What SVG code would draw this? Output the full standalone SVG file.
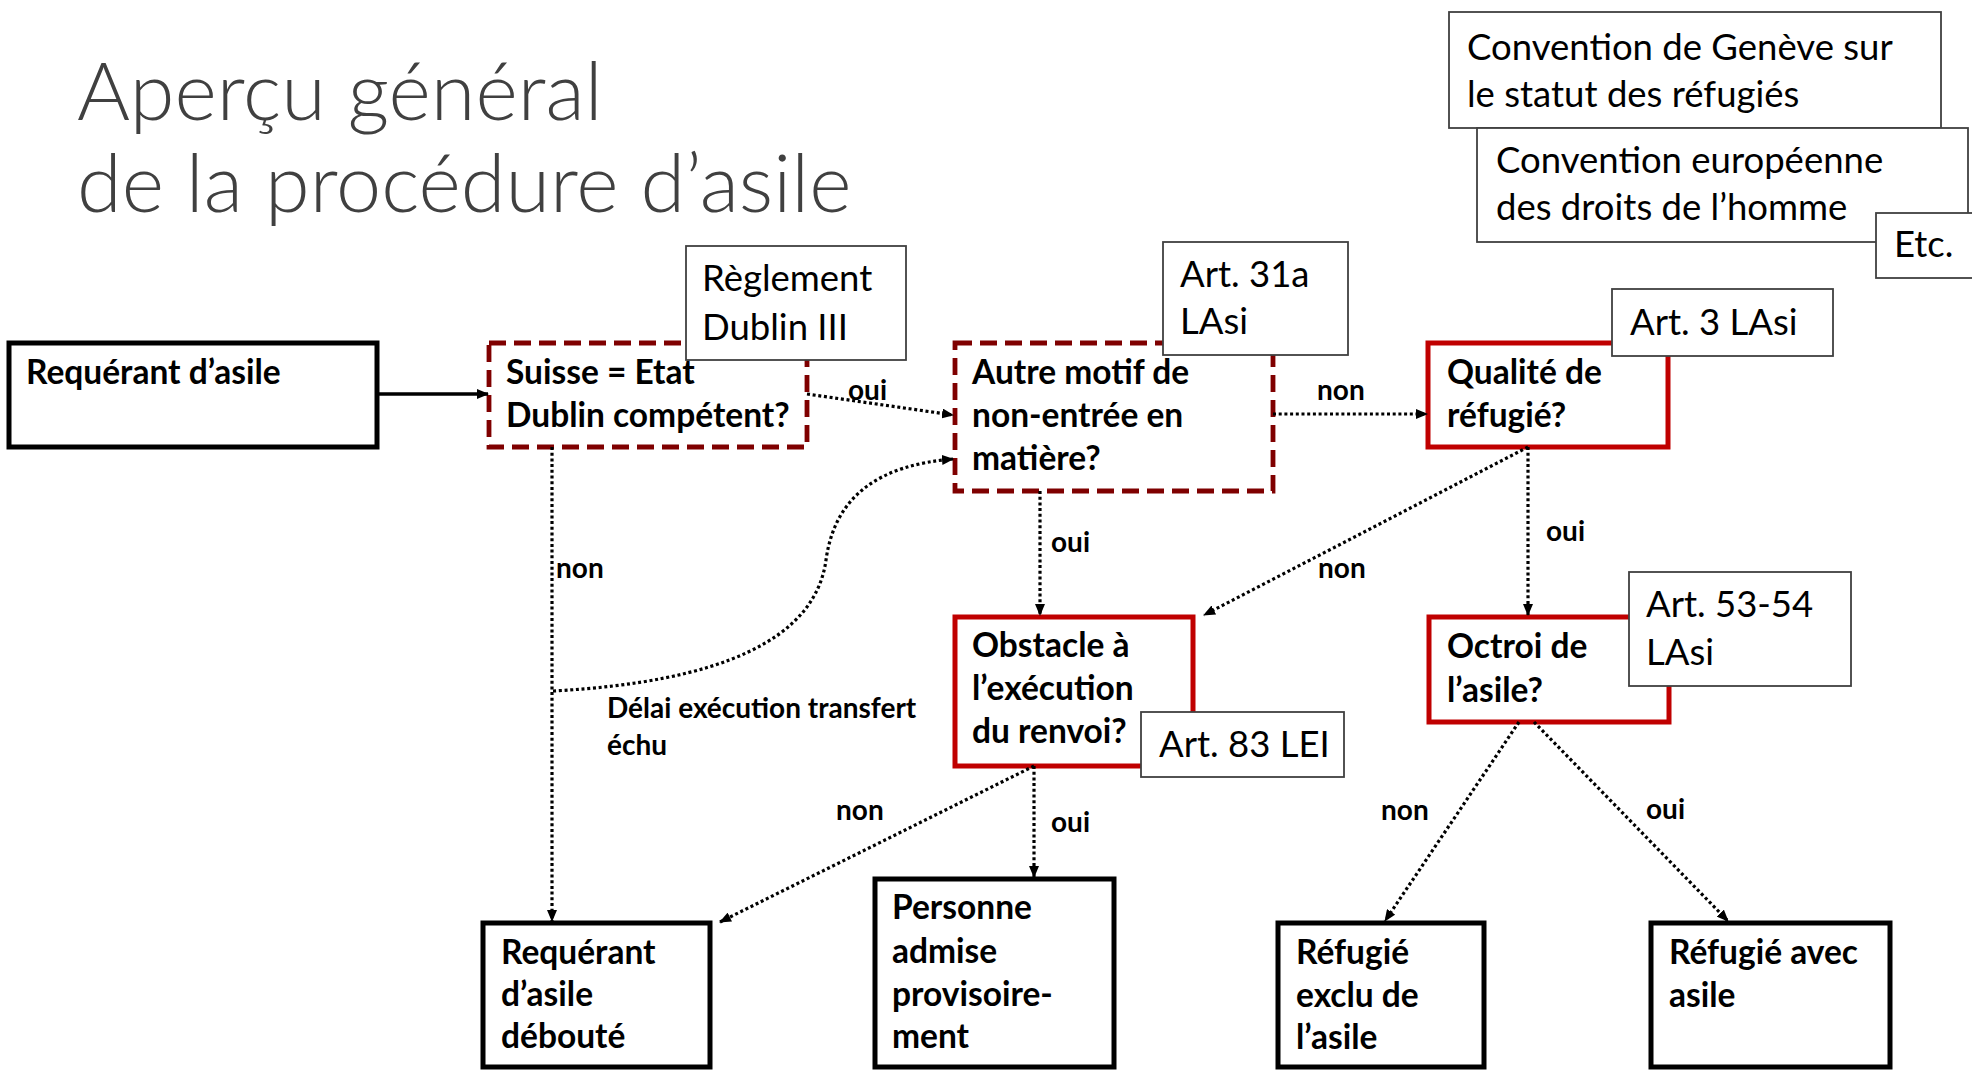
<svg xmlns="http://www.w3.org/2000/svg" width="1972" height="1070" viewBox="0 0 1972 1070">
<defs>
<style>
.title{font-family:Lato,"Open Sans","Liberation Sans",sans-serif;font-weight:300;font-size:81px;fill:#404040}
.b{font-family:Lato,"Liberation Sans",sans-serif;font-weight:700;font-size:33.5px;fill:#000}
.r{font-family:Lato,"Liberation Sans",sans-serif;font-weight:400;font-size:36.5px;fill:#000}
.lbl{font-family:Lato,"Liberation Sans",sans-serif;font-weight:700;font-size:28px;fill:#000}
.ref{fill:#fff;stroke:#404040;stroke-width:1.8}
.dash{fill:#fff;stroke:#7f0000;stroke-width:4.8;stroke-dasharray:17 8}
.red{fill:#fff;stroke:#c00000;stroke-width:5}
.blk{fill:#fff;stroke:#000;stroke-width:5}
.dot{fill:none;stroke:#000;stroke-width:3.2;stroke-dasharray:3 2.7;marker-end:url(#ah)}
.solid{fill:none;stroke:#000;stroke-width:3.5;marker-end:url(#ah)}
</style>
<marker id="ah" markerUnits="userSpaceOnUse" markerWidth="12" markerHeight="10" refX="11" refY="5" orient="auto"><path d="M0,0 L12,5 L0,10 z" fill="#000"/></marker>
</defs>
<rect width="1972" height="1070" fill="#fff"/>
<g id="title">
<text class="title" x="77" y="120">Aperçu général</text>
<text class="title" x="77" y="212">de la procédure d’asile</text>
</g>
<g id="n_requerant"><rect class="blk" x="9" y="343" width="368" height="104"/><text class="b" x="26" y="384">Requérant d’asile</text></g>
<g id="n_suisse"><rect class="dash" x="489" y="343" width="318" height="104"/><text class="b" x="506" y="384">Suisse = Etat</text><text class="b" x="506" y="427">Dublin compétent?</text></g>
<g id="n_dublin"><rect class="ref" x="686" y="246" width="220" height="114"/><text class="r" x="702" y="291">Règlement</text><text class="r" x="702" y="340">Dublin III</text></g>
<g id="n_autre"><rect class="dash" x="955" y="343" width="318" height="148"/><text class="b" x="972" y="384">Autre motif de</text><text class="b" x="972" y="427">non-entrée en</text><text class="b" x="972" y="470">matière?</text></g>
<g id="n_art31a"><rect class="ref" x="1163" y="242" width="185" height="113"/><text class="r" x="1180" y="287">Art. 31a</text><text class="r" x="1180" y="334">LAsi</text></g>
<g id="n_qualite"><rect class="red" x="1428" y="343" width="240" height="104"/><text class="b" x="1447" y="384">Qualité de</text><text class="b" x="1447" y="427">réfugié?</text></g>
<g id="n_art3"><rect class="ref" x="1612" y="289" width="221" height="67"/><text class="r" x="1630" y="335">Art. 3 LAsi</text></g>
<g id="n_obstacle"><rect class="red" x="955" y="617" width="238" height="149"/><text class="b" x="972" y="657">Obstacle à</text><text class="b" x="972" y="700">l’exécution</text><text class="b" x="972" y="743">du renvoi?</text></g>
<g id="n_art83"><rect class="ref" x="1141" y="712" width="203" height="65"/><text class="r" x="1159" y="757">Art. 83 LEI</text></g>
<g id="n_octroi"><rect class="red" x="1429" y="617" width="240" height="105"/><text class="b" x="1447" y="658">Octroi de</text><text class="b" x="1447" y="702">l’asile?</text></g>
<g id="n_art5354"><rect class="ref" x="1629" y="572" width="222" height="114"/><text class="r" x="1646" y="617">Art. 53-54</text><text class="r" x="1646" y="665">LAsi</text></g>
<g id="n_deboute"><rect class="blk" x="483" y="923" width="227" height="144"/><text class="b" x="501" y="964">Requérant</text><text class="b" x="501" y="1006">d’asile</text><text class="b" x="501" y="1048">débouté</text></g>
<g id="n_personne"><rect class="blk" x="875" y="879" width="239" height="188"/><text class="b" x="892" y="919">Personne</text><text class="b" x="892" y="963">admise</text><text class="b" x="892" y="1006">provisoire-</text><text class="b" x="892" y="1048">ment</text></g>
<g id="n_exclu"><rect class="blk" x="1278" y="923" width="206" height="144"/><text class="b" x="1296" y="964">Réfugié</text><text class="b" x="1296" y="1007">exclu de</text><text class="b" x="1296" y="1049">l’asile</text></g>
<g id="n_avec"><rect class="blk" x="1651" y="923" width="239" height="144"/><text class="b" x="1669" y="964">Réfugié avec</text><text class="b" x="1669" y="1007">asile</text></g>
<g id="n_geneve"><rect class="ref" x="1449" y="12" width="492" height="116"/><text class="r" x="1467" y="60">Convention de Genève sur</text><text class="r" x="1467" y="107">le statut des réfugiés</text></g>
<g id="n_cedh"><rect class="ref" x="1477" y="128" width="491" height="114"/><text class="r" x="1496" y="173">Convention européenne</text><text class="r" x="1496" y="220">des droits de l’homme</text></g>
<g id="n_etc"><rect class="ref" x="1876" y="213" width="100" height="65"/><text class="r" x="1894" y="257">Etc.</text></g>
<g id="connectors">
<path class="solid" d="M377,394 L488,394"/>
<path class="dot" d="M807,394 L953,415"/>
<path class="dot" d="M1273,414 L1427,414"/>
<path class="dot" d="M552,447 L552,921"/>
<path class="dot" d="M553,691 C720,682 815,640 826,560 C835,495 880,465 953,459"/>
<path class="dot" d="M1040,491 L1040,615"/>
<path class="dot" d="M1528,447 L1528,615"/>
<path class="dot" d="M1528,447 L1204,615"/>
<path class="dot" d="M1034,766 L720,922"/>
<path class="dot" d="M1034,766 L1034,877"/>
<path class="dot" d="M1519,722 L1385,921"/>
<path class="dot" d="M1534,722 L1728,921"/>
<text class="lbl" x="848" y="400">oui</text>
<text class="lbl" x="1317" y="400">non</text>
<text class="lbl" x="556" y="578">non</text>
<text class="lbl" x="1051" y="552">oui</text>
<text class="lbl" x="1546" y="541">oui</text>
<text class="lbl" x="1318" y="578">non</text>
<text class="lbl" x="607" y="718">Délai exécution transfert</text>
<text class="lbl" x="607" y="755">échu</text>
<text class="lbl" x="836" y="820">non</text>
<text class="lbl" x="1051" y="832">oui</text>
<text class="lbl" x="1381" y="820">non</text>
<text class="lbl" x="1646" y="819">oui</text>
</g>
</svg>
